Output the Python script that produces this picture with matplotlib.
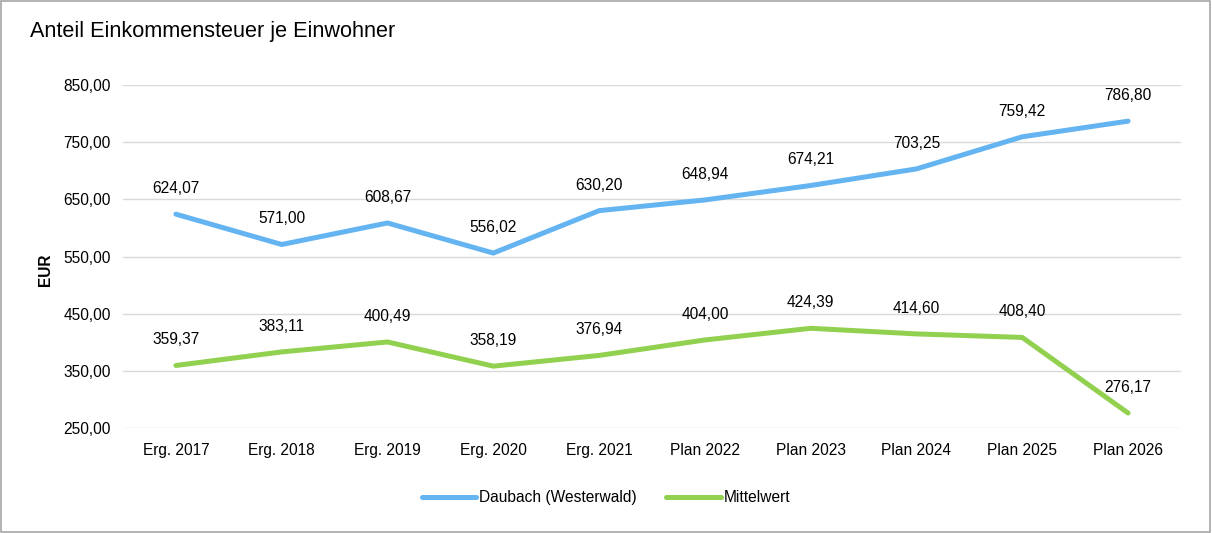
import matplotlib.pyplot as plt
import numpy as np

plt.rcParams['font.family'] = ['Liberation Sans', 'DejaVu Sans']

categories = ["Erg. 2017", "Erg. 2018", "Erg. 2019", "Erg. 2020", "Erg. 2021",
              "Plan 2022", "Plan 2023", "Plan 2024", "Plan 2025", "Plan 2026"]
daubach = [624.07, 571.00, 608.67, 556.02, 630.20,
           648.94, 674.21, 703.25, 759.42, 786.80]
mittelwert = [359.37, 383.11, 400.49, 358.19, 376.94,
              404.00, 424.39, 414.60, 408.40, 276.17]
yticks = [250, 350, 450, 550, 650, 750, 850]

FS = 11.2


def fmt(v):
    return f"{v:.2f}".replace(".", ",")


fig = plt.figure(figsize=(12.12, 5.33), dpi=100)
ax = fig.add_axes([0.1015, 0.197, 0.8729, 0.6435])

x = np.arange(len(categories))
ax.plot(x, daubach, color="#64B4F2", lw=3.6, solid_capstyle="round",
        label="Daubach (Westerwald)")
ax.plot(x, mittelwert, color="#92D050", lw=3.6, solid_capstyle="round",
        label="Mittelwert")

# data labels above each point
for series in (daubach, mittelwert):
    for xi, v in zip(x, series):
        ax.annotate(fmt(v), (xi, v), xytext=(0, 13), textcoords="offset points",
                    ha="center", va="bottom", fontsize=FS)

ax.set_xlim(-0.5, len(categories) - 0.5)
ax.set_ylim(250, 850)
ax.set_yticks(yticks)
ax.set_yticklabels([fmt(t) for t in yticks], fontsize=FS)
ax.set_xticks(x)
ax.set_xticklabels(categories, fontsize=FS)
ax.tick_params(length=0, pad=11)
ax.tick_params(axis="y", pad=9)
ax.grid(axis="y", color="#D9D9D9", lw=1)
ax.set_axisbelow(True)
for s in ax.spines.values():
    s.set_visible(False)

ax.set_ylabel("EUR", fontsize=FS, fontweight="bold")
ax.yaxis.set_label_coords(-0.066, 0.46)

fig.text(0.025, 0.94, "Anteil Einkommensteuer je Einwohner", fontsize=15.6,
         ha="left", va="center")

fig.legend(loc="center", bbox_to_anchor=(0.5, 0.066), ncol=2, frameon=False,
           fontsize=FS, handlelength=3.5, columnspacing=1.9, handletextpad=0.2)

fig.patches.append(plt.Rectangle((0.001, 0.002), 0.997, 0.996, transform=fig.transFigure,
                                 fill=False, edgecolor="#A6A6A6", lw=1.2))

fig.savefig("out.png", dpi=100)
